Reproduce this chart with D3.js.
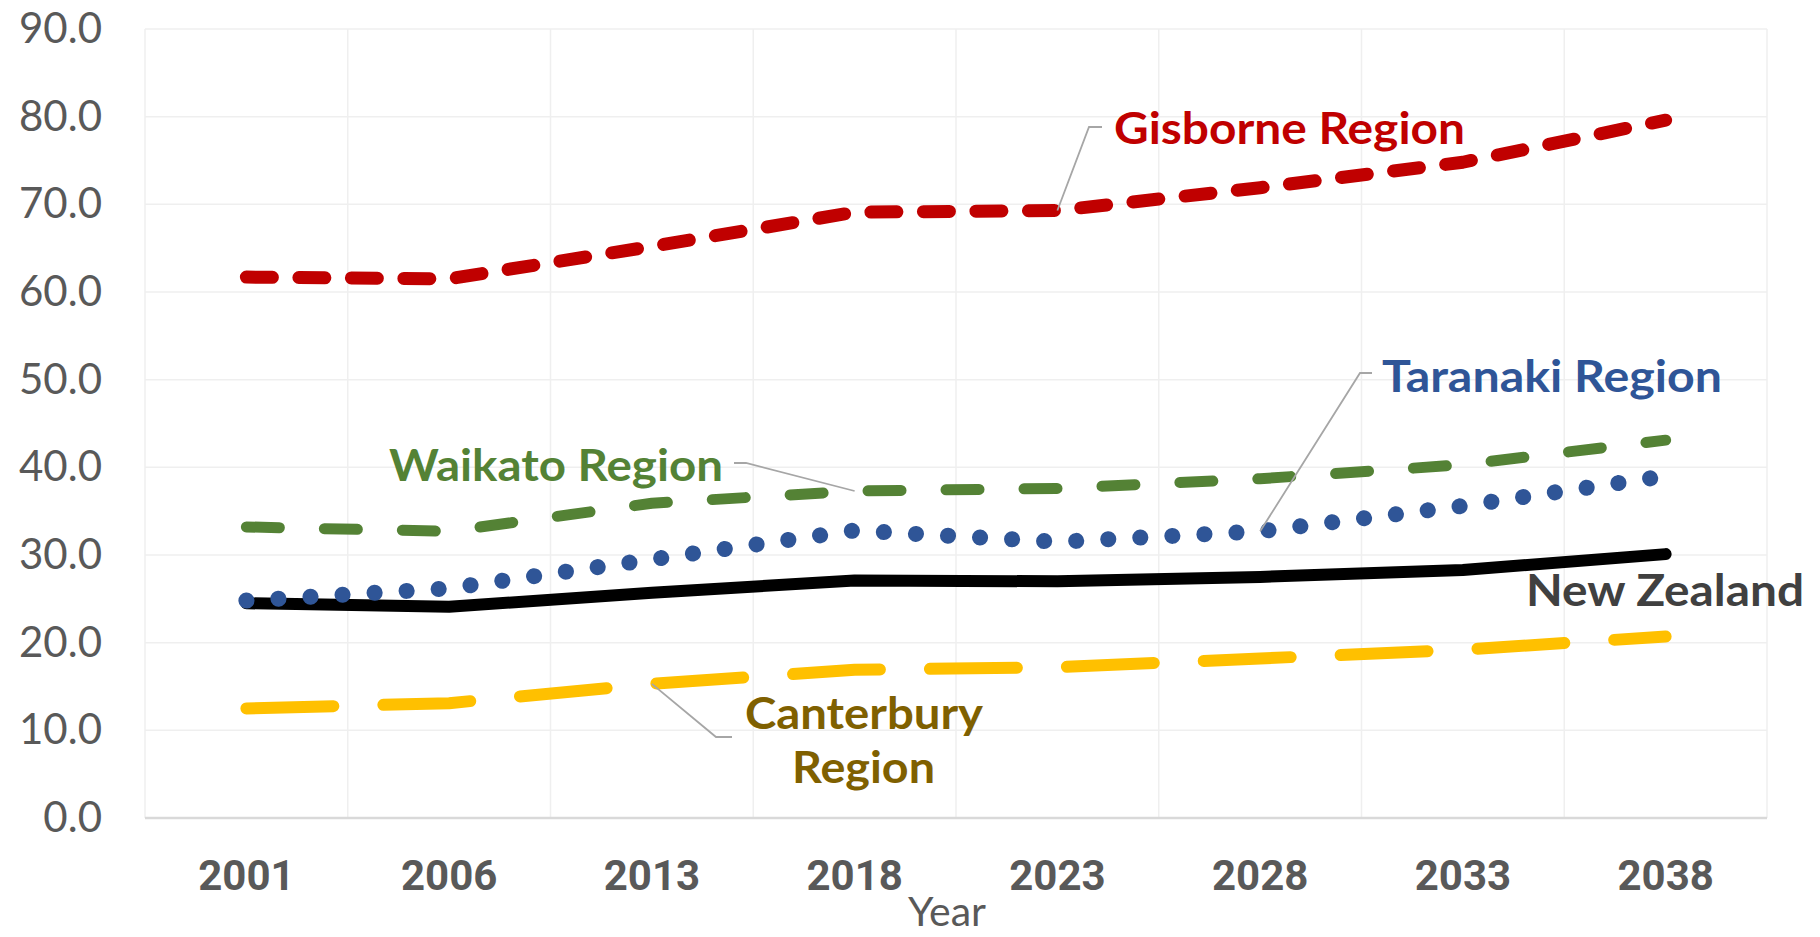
<!DOCTYPE html>
<html>
<head>
<meta charset="utf-8">
<script src="https://cdn.jsdelivr.net/npm/d3@7"></script>
<style>
  html, body { margin: 0; padding: 0; background: #fff; }
  svg { display: block; }
</style>
</head>
<body>
<svg width="1820" height="937"></svg>
<script>
const years = ["2001", "2006", "2013", "2018", "2023", "2028", "2033", "2038"];
const yTicks = [0, 10, 20, 30, 40, 50, 60, 70, 80, 90];

const gisborne   = [61.7, 61.5, 65.2, 69.1, 69.3, 71.9, 74.8, 79.6];
const waikato    = [33.2, 32.7, 35.9, 37.3, 37.6, 38.7, 40.3, 43.1];
const taranaki   = [24.8, 26.2, 29.5, 32.8, 31.5, 32.7, 35.6, 39.0];
const newZealand = [24.5, 24.1, 25.7, 27.1, 27.0, 27.5, 28.3, 30.1];
const canterbury = [12.5, 13.1, 15.3, 16.9, 17.2, 18.2, 19.2, 20.7];

const svg = d3.select("svg");
const plotLeft = 145, plotRight = 1767, plotTop = 29, plotBottom = 818;

const x = d3.scaleBand().domain(years).range([plotLeft, plotRight]);
const y = d3.scaleLinear().domain([0, 90]).range([plotBottom, plotTop]);
const cx = d => x(d) + x.bandwidth() / 2;

// grid
const grid = svg.append("g");
grid.selectAll("line.h")
    .data(yTicks.filter(d => d > 0))
    .join("line")
    .attr("class", "h")
    .attr("x1", plotLeft).attr("x2", plotRight)
    .attr("y1", d => y(d)).attr("y2", d => y(d))
    .attr("stroke", "#efefef").attr("stroke-width", 1.5);

const edges = years.map(d => x(d)).concat([plotRight]);
grid.selectAll("line.v")
    .data(edges)
    .join("line")
    .attr("class", "v")
    .attr("x1", d => d).attr("x2", d => d)
    .attr("y1", plotTop).attr("y2", plotBottom)
    .attr("stroke", "#efefef").attr("stroke-width", 1.5);

// axes
const yAxis = svg.append("g")
    .attr("transform", `translate(${plotLeft},0)`)
    .call(d3.axisLeft(y).tickValues(yTicks).tickFormat(d3.format(".1f")).tickSize(0).tickPadding(43));
yAxis.select(".domain").remove();
yAxis.selectAll("text")
    .attr("font-family", "Lato, sans-serif")
    .attr("font-size", 42)
    .attr("fill", "#595959");

const xAxis = svg.append("g")
    .attr("transform", `translate(0,${plotBottom})`)
    .call(d3.axisBottom(x).tickSize(0).tickPadding(42));
xAxis.select(".domain").remove();
xAxis.selectAll("text")
    .attr("font-family", "Roboto, sans-serif")
    .attr("font-weight", 700)
    .attr("font-size", 42)
    .attr("fill", "#595959");

svg.append("line")
    .attr("x1", plotLeft).attr("x2", plotRight)
    .attr("y1", plotBottom).attr("y2", plotBottom)
    .attr("stroke", "#d9d9d9").attr("stroke-width", 2.5);

svg.append("text")
    .attr("x", 947).attr("y", 926)
    .attr("text-anchor", "middle")
    .attr("font-family", "Lato, sans-serif")
    .attr("font-size", 41)
    .attr("fill", "#595959")
    .text("Year");

// series
const line = d3.line()
    .x((d, i) => cx(years[i]))
    .y(d => y(d));

const series = [
    {values: newZealand, color: "#000000", width: 12, dash: null},
    {values: canterbury, color: "#FFC000", width: 12, dash: "87 50"},
    {values: waikato,    color: "#548235", width: 11, dash: "33 45"},
    {values: taranaki,   color: "#2F5597", width: 16, dash: "0.1 32"},
    {values: gisborne,   color: "#C00000", width: 13, dash: "26 26.5"}
];

series.forEach(s => {
    svg.append("path")
        .attr("d", line(s.values))
        .attr("fill", "none")
        .attr("stroke", s.color)
        .attr("stroke-width", s.width)
        .attr("stroke-linecap", "round")
        .attr("stroke-linejoin", "round")
        .attr("stroke-dasharray", s.dash);
});

// leader lines
const leader = d3.line();
const leaders = [
    [[1102, 127], [1089, 127], [cx("2023"), y(gisborne[4])]],
    [[1372, 373], [1360, 373], [cx("2028"), y(taranaki[5])]],
    [[734, 463], [746, 463], [cx("2018"), y(waikato[3])]],
    [[732, 737], [716, 737], [cx("2013"), y(canterbury[2])]]
];
svg.selectAll("path.leader")
    .data(leaders)
    .join("path")
    .attr("class", "leader")
    .attr("d", d => leader(d))
    .attr("fill", "none")
    .attr("stroke", "#a6a6a6")
    .attr("stroke-width", 1.8);

// labels
const labels = [
    {text: "Gisborne Region", x: 1114, y: 144, w: 351, color: "#C00000"},
    {text: "Taranaki Region", x: 1382, y: 392, w: 340, color: "#2F5597"},
    {text: "Waikato Region",  x: 389,  y: 481, w: 334, color: "#548235"},
    {text: "Canterbury",      x: 745,  y: 729, w: 238, color: "#7F6000"},
    {text: "Region",          x: 792,  y: 783, w: 143, color: "#7F6000"},
    {text: "New Zealand",     x: 1526, y: 606, w: 278, color: "#404040"}
];
svg.selectAll("text.lbl")
    .data(labels)
    .join("text")
    .attr("class", "lbl")
    .attr("x", d => d.x)
    .attr("y", d => d.y)
    .attr("textLength", d => d.w)
    .attr("lengthAdjust", "spacingAndGlyphs")
    .attr("font-family", "Lato, sans-serif")
    .attr("font-weight", 700)
    .attr("font-size", 44)
    .attr("fill", d => d.color)
    .text(d => d.text);
</script>
</body>
</html>
